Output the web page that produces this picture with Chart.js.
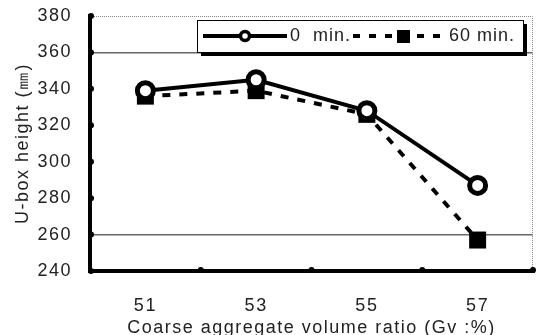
<!DOCTYPE html>
<html>
<head>
<meta charset="utf-8">
<script src="https://cdn.jsdelivr.net/npm/chart.js@4"></script>
<style>
  html, body { margin: 0; padding: 0; background: #fff; }
</style>
</head>
<body>
<canvas id="c" width="537" height="335"></canvas>
<script>
// data
const ratios = ['51', '53', '55', '57'];
const min0 = [339, 345, 328, 287];
const min60 = [336, 339, 326, 257];
const yTicks = [240, 260, 280, 300, 320, 340, 360, 380];

const FONT = 'Liberation Sans, Arial, sans-serif';
const TXT = '#222';

// wide-ish lettering like the original
const spacing = {
  id: 'spacing',
  beforeDraw(chart) {
    chart.ctx.letterSpacing = '1.5px';
  }
};

// frame: thick left/bottom axis, dotted top/right, small tick bumps
const frame = {
  id: 'frame',
  beforeDatasetsDraw(chart) {
    const { ctx, chartArea: a, scales } = chart;
    ctx.save();
    // dotted gray top and right
    ctx.strokeStyle = '#888';
    ctx.lineWidth = 1;
    ctx.setLineDash([1, 1]);
    ctx.beginPath();
    ctx.moveTo(a.left, a.top + 0.5);
    ctx.lineTo(a.right - 0.5, a.top + 0.5);
    ctx.lineTo(a.right - 0.5, a.bottom);
    ctx.stroke();
    ctx.setLineDash([]);
    // thick black left and bottom
    ctx.strokeStyle = '#000';
    ctx.lineWidth = 4;
    ctx.beginPath();
    ctx.moveTo(a.left, a.top - 2);
    ctx.lineTo(a.left, a.bottom);
    ctx.lineTo(a.right + 2, a.bottom);
    ctx.stroke();
    // tick bumps
    ctx.fillStyle = '#000';
    yTicks.forEach(v => {
      const y = scales.y.getPixelForValue(v);
      ctx.beginPath();
      ctx.arc(a.left + 1, y, 3, 0, Math.PI * 2);
      ctx.fill();
    });
    for (let i = 1; i <= ratios.length; i++) {
      const x = scales.x.getPixelForValue(i - 0.5);
      ctx.beginPath();
      ctx.arc(x, a.bottom - 1, 3, 0, Math.PI * 2);
      ctx.fill();
    }
    ctx.restore();
  }
};

// legend box with shadow, line + marker samples
const legendBox = {
  id: 'legendBox',
  afterDatasetsDraw(chart) {
    const ctx = chart.ctx;
    const x0 = 197, y0 = 20, x1 = 523, y1 = 52;
    const cy = (y0 + y1) / 2;
    ctx.save();
    ctx.fillStyle = '#000';
    ctx.fillRect(x0 + 4, y0 + 4, x1 - x0, y1 - y0);
    ctx.fillStyle = '#fff';
    ctx.fillRect(x0, y0, x1 - x0, y1 - y0);
    ctx.strokeStyle = '#000';
    ctx.lineWidth = 1;
    ctx.strokeRect(x0 + 0.5, y0 + 0.5, x1 - x0, y1 - y0);
    // 0 min
    ctx.lineWidth = 4;
    ctx.beginPath();
    ctx.moveTo(203, cy);
    ctx.lineTo(287, cy);
    ctx.stroke();
    ctx.fillStyle = '#fff';
    ctx.lineWidth = 3.5;
    ctx.beginPath();
    ctx.arc(245, cy, 4.5, 0, Math.PI * 2);
    ctx.fill();
    ctx.stroke();
    // 60 min
    ctx.lineWidth = 4;
    ctx.setLineDash([7, 9]);
    ctx.beginPath();
    ctx.moveTo(353, cy);
    ctx.lineTo(445, cy);
    ctx.stroke();
    ctx.setLineDash([]);
    ctx.fillStyle = '#000';
    ctx.fillRect(397, cy - 6, 13, 13);
    ctx.fillStyle = TXT;
    ctx.font = '18px ' + FONT;
    ctx.letterSpacing = '1px';
    ctx.textBaseline = 'middle';
    ctx.fillText('0  min.', 290, cy);
    ctx.fillText('60 min.', 449, cy);
    ctx.restore();
  }
};

new Chart(document.getElementById('c'), {
  type: 'line',
  data: {
    labels: ratios,
    datasets: [{
      label: '0 min.',
      data: min0,
      borderColor: '#000',
      borderWidth: 4,
      pointStyle: 'circle',
      pointRadius: 8,
      pointBorderWidth: 5,
      pointBackgroundColor: '#fff',
      pointBorderColor: '#000',
      tension: 0
    }, {
      label: '60 min.',
      data: min60,
      borderColor: '#000',
      borderWidth: 4,
      borderDash: [8, 9],
      pointStyle: 'rect',
      pointRadius: 12,
      pointBorderWidth: 0,
      pointBackgroundColor: '#000',
      tension: 0
    }]
  },
  options: {
    responsive: false,
    animation: false,
    devicePixelRatio: 1,
    layout: { autoPadding: false, padding: { top: 16, right: 4, left: 0, bottom: 0 } },
    plugins: { legend: { display: false }, tooltip: { enabled: false } },
    scales: {
      x: {
        offset: true,
        grid: { display: false },
        border: { display: false },
        ticks: { color: TXT, font: { family: FONT, size: 18 }, padding: 16 },
        title: { display: true, text: 'Coarse aggregate volume ratio (Gv :%)', color: TXT, font: { family: FONT, size: 18 }, padding: { top: 0, bottom: -4 } },
        afterFit: s => { s.height = 64; s.paddingLeft = 0; s.paddingRight = 0; }
      },
      y: {
        min: 240,
        max: 380,
        grid: {
          color: ctx => (ctx.tick && (ctx.tick.value === 360 || ctx.tick.value === 260)) ? '#666' : 'rgba(0,0,0,0)',
          lineWidth: 1.5,
          drawTicks: false
        },
        border: { display: false },
        ticks: { stepSize: 20, color: TXT, font: { family: FONT, size: 18 }, padding: 18 },
        title: { display: true, text: 'U-box height (㎜)', color: TXT, font: { family: FONT, size: 18 }, padding: { top: 12, bottom: 0 } },
        afterFit: s => { s.width = 90; s.paddingTop = 0; s.paddingBottom = 0; }
      }
    }
  },
  plugins: [spacing, frame, legendBox]
});
</script>
</body>
</html>
